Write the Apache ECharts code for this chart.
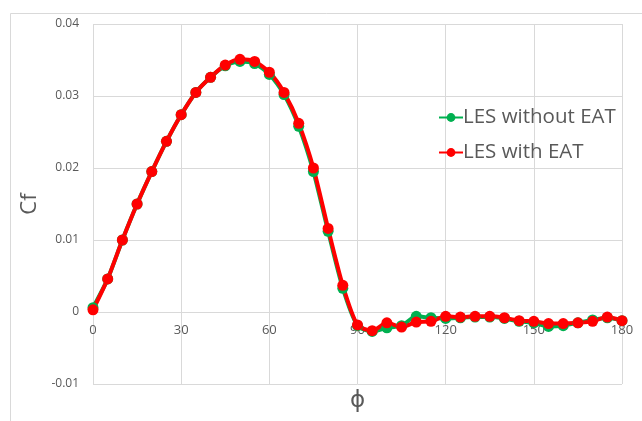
<!DOCTYPE html>
<html>
<head>
<meta charset="utf-8">
<script src="https://cdn.jsdelivr.net/npm/echarts@6/dist/echarts.min.js"></script>
<style>html,body{margin:0;padding:0;background:#fff}#c{width:642px;height:421px}</style>
</head>
<body>
<div id="c"></div>
<script>
const phi = [0,5,10,15,20,25,30,35,40,45,50,55,60,65,70,75,80,85,90,95,100,105,110,115,120,125,130,135,140,145,150,155,160,165,170,175,180];
const withoutEAT = [0.0006,0.0046,0.0100,0.0150,0.0195,0.0237,0.0274,0.0305,0.0326,0.0342,0.0348,0.0345,0.0330,0.0302,0.0258,0.0195,0.0112,0.0033,-0.0019,-0.0027,-0.0022,-0.0019,-0.0006,-0.0008,-0.0009,-0.0008,-0.0007,-0.0007,-0.0009,-0.0013,-0.0015,-0.0020,-0.0019,-0.0015,-0.0011,-0.0008,-0.0012];
const withEAT = [0.0003,0.0046,0.0100,0.0150,0.0195,0.0237,0.0274,0.0305,0.0326,0.0343,0.0351,0.0348,0.0333,0.0305,0.0262,0.0200,0.0116,0.0037,-0.0018,-0.0026,-0.0015,-0.0021,-0.0014,-0.0013,-0.0006,-0.0007,-0.0006,-0.0006,-0.0008,-0.0012,-0.0013,-0.0016,-0.0016,-0.0015,-0.0013,-0.0007,-0.0012];
const xTicks = {min:0, max:180, interval:30};
const yTicks = {min:-0.01, max:0.04, interval:0.01};

const chart = echarts.init(document.getElementById('c'), null, {renderer:'canvas'});
const txt = '#595959';
const gridC = '#D9D9D9';
const gridTop = 24, gridBottom = 37, H = 421;
// offset the x axis up to the zero line
const zeroOffset = -((H - gridTop - gridBottom) / ((yTicks.max - yTicks.min) / yTicks.interval)) * ((0 - yTicks.min) / yTicks.interval);
chart.setOption({
  animation:false,
  backgroundColor:'#fff',
  graphic:[
    {type:'rect', left:8, top:11, shape:{width:700, height:500}, style:{fill:'none', stroke:gridC, lineWidth:1}, silent:true, z:-1}
  ],
  grid:{left:93, right:20, top:gridTop, bottom:gridBottom, containLabel:false, outerBoundsMode:'none'},
  legend:{
    orient:'vertical', left:433, top:102, itemWidth:24, itemHeight:11, itemGap:14,
    textStyle:{fontFamily:'Open Sans', fontSize:20.5, color:txt, padding:[0,0,0,-5]},
    data:['LES without EAT','LES with EAT']
  },
  xAxis:{
    type:'value', min:xTicks.min, max:xTicks.max, interval:xTicks.interval,
    offset:zeroOffset,
    name:'ϕ', nameLocation:'middle', nameGap:78,
    nameTextStyle:{fontFamily:'DejaVu Sans', fontSize:23, color:txt},
    axisLine:{show:false, onZero:false},
    axisTick:{show:false},
    axisLabel:{fontFamily:'Open Sans', fontSize:13, color:txt, margin:12},
    splitLine:{show:true, lineStyle:{color:gridC}}
  },
  yAxis:{
    type:'value', min:yTicks.min, max:yTicks.max, interval:yTicks.interval,
    name:'Cf', nameLocation:'middle', nameGap:50, nameRotate:90,
    nameTextStyle:{fontFamily:'Open Sans', fontSize:22, color:txt},
    axisLine:{show:false, onZero:false}, axisTick:{show:false},
    axisLabel:{fontFamily:'Open Sans', fontSize:12, color:txt, margin:14,
      formatter:v=>String(+v.toFixed(2))},
    splitLine:{show:true, lineStyle:{color:gridC}}
  },
  series:[
    {name:'LES without EAT', type:'line', data:phi.map((p,i)=>[p,withoutEAT[i]]),
     smooth:0.25, symbol:'circle', symbolSize:11,
     lineStyle:{width:4, color:'#00B050'}, itemStyle:{color:'#00B050'}},
    {name:'LES with EAT', type:'line', data:phi.map((p,i)=>[p,withEAT[i]]),
     smooth:0.25, symbol:'circle', symbolSize:11,
     lineStyle:{width:4, color:'#FF0000'}, itemStyle:{color:'#FF0000'}}
  ]
});
</script>
</body>
</html>
